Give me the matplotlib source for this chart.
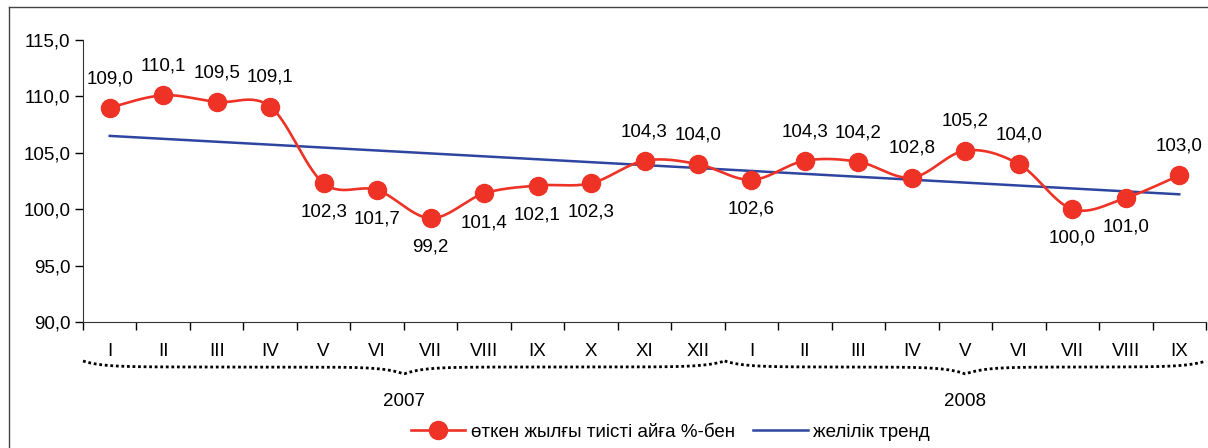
import numpy as np
import matplotlib
matplotlib.use("Agg")
import matplotlib.pyplot as plt
import matplotlib.transforms as mtransforms
from matplotlib.lines import Line2D

plt.rcParams['font.family'] = ['Liberation Sans', 'DejaVu Sans']

months = ["I", "II", "III", "IV", "V", "VI", "VII", "VIII", "IX", "X", "XI", "XII",
          "I", "II", "III", "IV", "V", "VI", "VII", "VIII", "IX"]
values = [109.0, 110.1, 109.5, 109.1, 102.3, 101.7, 99.2, 101.4, 102.1, 102.3, 104.3, 104.0,
          102.6, 104.3, 104.2, 102.8, 105.2, 104.0, 100.0, 101.0, 103.0]
# +1 label above point, -1 below
label_pos = [1, 1, 1, 1, -1, -1, -1, -1, -1, -1, 1, 1,
             -1, 1, 1, 1, 1, 1, -1, -1, 1]
years = ["2007", "2008"]
year_spans = [(-0.5, 11.5), (11.5, 20.5)]

red = "#EE3226"
blue = "#2E45A0"
fs = 13.5

x = np.arange(len(values))
y = np.array(values)


def smooth(xs, ys, n=30, t=0.5):
    # Catmull-Rom style curve through the points (like Excel "smoothed line")
    px, py = [], []
    pts = np.column_stack([xs, ys])
    ext = np.vstack([pts[0], pts, pts[-1]])
    for i in range(1, len(ext) - 2):
        p0, p1, p2, p3 = ext[i - 1], ext[i], ext[i + 1], ext[i + 2]
        m1 = t * (p2 - p0)
        m2 = t * (p3 - p1)
        s = np.linspace(0, 1, n)
        h00 = 2 * s**3 - 3 * s**2 + 1
        h10 = s**3 - 2 * s**2 + s
        h01 = -2 * s**3 + 3 * s**2
        h11 = s**3 - s**2
        seg = (np.outer(h00, p1) + np.outer(h10, m1) + np.outer(h01, p2) + np.outer(h11, m2))
        px.extend(seg[:, 0])
        py.extend(seg[:, 1])
    return np.array(px), np.array(py)


fig = plt.figure(figsize=(12.08, 4.48), dpi=100)
ax = fig.add_axes([83 / 1208, (448 - 322) / 448, (1206 - 83) / 1208, 282 / 448])

sx, sy = smooth(x, y)
ax.plot(sx, sy, color=red, lw=1.9, zorder=3)
ax.plot(x, y, 'o', color=red, ms=13, zorder=4)

coef = np.polyfit(x, y, 1)
trend = np.polyval(coef, x)
ax.plot(x, trend, color=blue, lw=1.8, zorder=2)

for xi, yi, pos in zip(x, y, label_pos):
    ax.annotate(f"{yi:.1f}".replace(".", ","), (xi, yi), xytext=(0, 21 * pos),
                textcoords="offset points", ha="center", va="center", fontsize=fs)

ax.set_xlim(-0.5, len(values) - 0.5)
ax.set_ylim(90, 115)
ax.set_yticks(np.arange(90, 116, 5))
ax.set_yticklabels([f"{v:.1f}".replace(".", ",") for v in np.arange(90, 116, 5)])
ax.set_xticks(np.arange(-0.5, len(values), 1))
ax.set_xticklabels([])
ax.set_xticks(x, minor=True)
ax.set_xticklabels(months, minor=True)
ax.tick_params(axis='x', which='major', length=6, direction='out', width=1)
ax.tick_params(axis='x', which='minor', length=0, pad=15, labelsize=fs)
ax.tick_params(axis='y', length=6, width=1, pad=3, labelsize=fs)
for s in ['top', 'right']:
    ax.spines[s].set_visible(False)
for s in ['left', 'bottom']:
    ax.spines[s].set_color('#333333')

# curly braces under the months
trans = mtransforms.blended_transform_factory(ax.transData, fig.transFigure)
y_top = (448 - 361) / 448
y_h = (448 - 367) / 448
y_dip = (448 - 374) / 448
for (x0, x1), yr in zip(year_spans, years):
    xm = (x0 + x1) / 2
    bx = np.linspace(x0, x1, 400)
    w = 0.35
    by = (y_h + (y_top - y_h) * (np.exp(-(bx - x0) / w) + np.exp(-(x1 - bx) / w))
          - (y_h - y_dip) * np.exp(-np.abs(bx - xm) / w))
    ax.plot(bx, by, transform=trans, color='black', ls=(0, (1, 1)), lw=2, clip_on=False)
    ax.text(xm, (448 - 401) / 448, yr, transform=trans, ha='center', va='center', fontsize=fs)

handles = [Line2D([], [], color=red, lw=1.9, marker='o', ms=13),
           Line2D([], [], color=blue, lw=1.8)]
fig.legend(handles, ["өткен жылғы тиісті айға %-бен", "желілік тренд"],
           loc='center', bbox_to_anchor=(0.555, 0.035), ncol=2, frameon=False,
           fontsize=fs, handlelength=2.9, columnspacing=1.0, handletextpad=0.3)

# outer frame
fig.add_artist(Line2D([9 / 1208, 9 / 1208], [0, 1 - 7 / 448], color='#444444', lw=1))
fig.add_artist(Line2D([9 / 1208, 1], [1 - 7 / 448, 1 - 7 / 448], color='#444444', lw=1))

fig.savefig("out.png", dpi=100)
